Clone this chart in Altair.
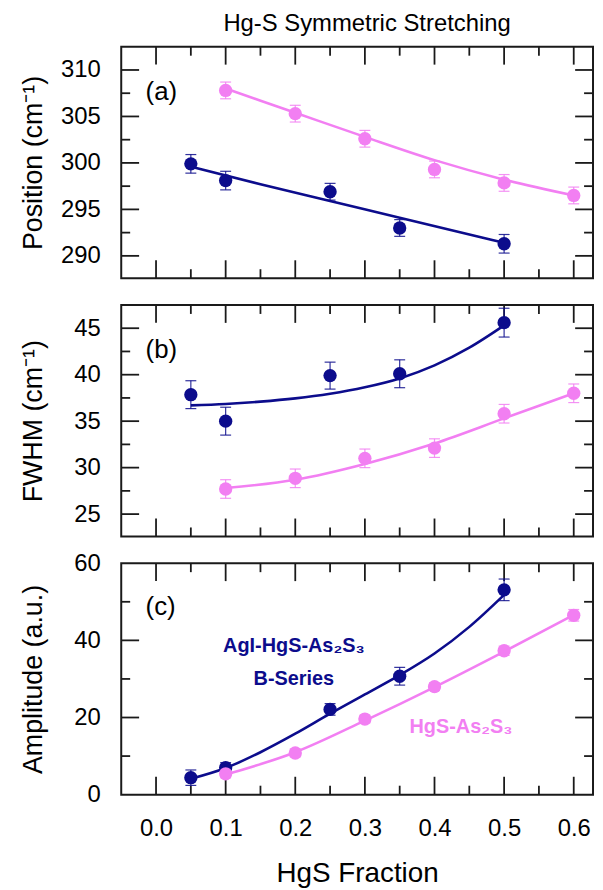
import altair as alt
import pandas as pd

NAVY = "#0c0c8c"
PINK = "#f27ff2"
FRAME = "#1a1a1a"
FONT = "Liberation Sans"

# ---------------- data ----------------
x_agi = [0.05, 0.10, 0.25, 0.35, 0.50]
x_hgs = [0.10, 0.20, 0.30, 0.40, 0.50, 0.60]

# (a) position
pos_agi = [299.9, 298.1, 296.9, 293.0, 291.3]
pos_agi_err = [1.0, 1.0, 0.9, 0.9, 1.0]
pos_hgs = [307.8, 305.3, 302.6, 299.3, 297.85, 296.5]
pos_hgs_err = [0.9, 0.9, 0.9, 0.9, 0.9, 0.9]
pos_agi_fit_x = [0.05, 0.15, 0.25, 0.35, 0.50]
pos_agi_fit = [299.6, 297.7, 295.9, 294.1, 291.4]
pos_hgs_fit_x = [0.10, 0.20, 0.30, 0.40, 0.50, 0.60]
pos_hgs_fit = [308.0, 305.4, 302.8, 300.3, 298.2, 296.5]

# (b) FWHM
fwhm_agi = [37.85, 35.0, 39.9, 40.1, 45.6]
fwhm_agi_err = [1.5, 1.5, 1.45, 1.5, 1.55]
fwhm_hgs = [27.7, 28.85, 31.0, 32.1, 35.8, 38.0]
fwhm_hgs_err = [1.0, 1.0, 1.0, 1.0, 1.0, 1.0]
fwhm_agi_fit_x = [0.05, 0.10, 0.15, 0.20, 0.25, 0.30, 0.35, 0.40, 0.45, 0.50]
fwhm_agi_fit = [36.7, 36.85, 37.1, 37.45, 37.95, 38.65, 39.6, 41.0, 42.9, 45.3]
fwhm_hgs_fit_x = [0.10, 0.20, 0.30, 0.40, 0.50, 0.60]
fwhm_hgs_fit = [27.8, 28.7, 30.4, 32.6, 35.3, 38.0]

# (c) amplitude
amp_agi = [4.4, 7.0, 22.1, 30.7, 53.1]
amp_agi_err = [2.0, 1.3, 1.5, 2.3, 2.8]
amp_hgs = [5.4, 10.8, 19.6, 28.0, 37.3, 46.5]
amp_hgs_err = [1.0, 1.0, 1.0, 1.0, 1.2, 1.5]
amp_agi_fit_x = [0.05, 0.10, 0.15, 0.20, 0.25, 0.30, 0.35, 0.40, 0.45, 0.50]
amp_agi_fit = [4.1, 6.9, 11.0, 15.8, 21.0, 26.0, 31.0, 36.6, 43.5, 51.8]
amp_hgs_fit_x = [0.10, 0.20, 0.30, 0.40, 0.50, 0.60]
amp_hgs_fit = [5.2, 11.0, 19.2, 27.9, 37.1, 46.6]

series = ["AgI-HgS-As2S3", "HgS-As2S3"]

# axes / ticks
x_major = [0.0, 0.1, 0.2, 0.3, 0.4, 0.5, 0.6]
x_minor = [0.05, 0.15, 0.25, 0.35, 0.45, 0.55]
x_domain = [-0.05, 0.6277]

ya_major = [290, 295, 300, 305, 310]
ya_minor = [292.5, 297.5, 302.5, 307.5]
ya_domain = [287.6, 312.5]
yb_major = [25, 30, 35, 40, 45]
yb_minor = [27.5, 32.5, 37.5, 42.5]
yb_domain = [22.6, 47.5]
yc_labels = [0, 20, 40, 60]
yc_major = [20, 40]
yc_minor = [10, 30, 50]
yc_domain = [0, 60]

titles = ["Position (cm\u207b\u00b9)", "FWHM (cm\u207b\u00b9)", "Amplitude (a.u.)"]
letters = ["(a)", "(b)", "(c)"]
letter_x = -0.015
letter_y = [307.6, 42.6, 48.6]

notes_text = ["AgI-HgS-As\u2082S\u2083", "B-Series", "HgS-As\u2082S\u2083"]
notes_x = [0.198, 0.198, 0.438]
notes_y = [38.4, 30.0, 17.6]
notes_series = ["AgI-HgS-As2S3", "AgI-HgS-As2S3", "HgS-As2S3"]

W, H = 475, 233
MAJ, MIN = 18, 9

color_scale = alt.Scale(domain=series, range=[NAVY, PINK])


def points_df(xa, ya, ea, xh, yh, eh):
    rows = []
    for x, y, e in zip(xa, ya, ea):
        rows.append({"x": x, "y": y, "lo": y - e, "hi": y + e, "s": series[0]})
    for x, y, e in zip(xh, yh, eh):
        rows.append({"x": x, "y": y, "lo": y - e, "hi": y + e, "s": series[1]})
    return pd.DataFrame(rows)


def fit_df(xa, ya, xh, yh):
    rows = [{"x": x, "y": y, "s": series[0]} for x, y in zip(xa, ya)]
    rows += [{"x": x, "y": y, "s": series[1]} for x, y in zip(xh, yh)]
    return pd.DataFrame(rows)


def panel(pts, fit, ydom, ylabels, ymaj, ymin, ytitle, letter, ly, bottom, notes=None):
    xscale = alt.Scale(domain=x_domain, nice=False, zero=False)
    yscale = alt.Scale(domain=ydom, nice=False, zero=False)
    if bottom:
        xaxis = alt.Axis(values=x_major, format=".1f", labelPadding=22, title="HgS Fraction",
                         titlePadding=19, titleFontSize=28, labelFlush=False)
    else:
        xaxis = None
    yaxis = alt.Axis(values=ylabels, format="d", labelPadding=21, title=ytitle,
                     titleX=-74, titleY=H / 2, titleAlign="center", titleAngle=-90,
                     titleBaseline="bottom")

    def X(f):
        return alt.X(f, type="quantitative", scale=xscale, axis=xaxis, title="HgS Fraction" if bottom else None)

    def Y(f):
        return alt.Y(f, type="quantitative", scale=yscale, axis=yaxis, title=ytitle)

    layers = []
    rule = dict(color=FRAME, strokeWidth=1.8)
    ymaj_df = pd.DataFrame({"v": ymaj})
    ymin_df = pd.DataFrame({"v": ymin})
    xmaj_df = pd.DataFrame({"v": x_major})
    xmin_df = pd.DataFrame({"v": x_minor})
    for df, L in ((ymaj_df, MAJ), (ymin_df, MIN)):
        layers.append(alt.Chart(df).mark_rule(**rule).encode(y=Y("v"), x=alt.value(0), x2=alt.value(L)))
        layers.append(alt.Chart(df).mark_rule(**rule).encode(y=Y("v"), x=alt.value(W), x2=alt.value(W - L)))
    for df, L in ((xmaj_df, MAJ), (xmin_df, MIN)):
        layers.append(alt.Chart(df).mark_rule(**rule).encode(x=X("v"), y=alt.value(0), y2=alt.value(L)))
        layers.append(alt.Chart(df).mark_rule(**rule).encode(x=X("v"), y=alt.value(H), y2=alt.value(H - L)))

    col = alt.Color("s:N", scale=color_scale, legend=None)
    layers.append(alt.Chart(fit).mark_line(strokeWidth=2.6, interpolate="monotone").encode(
        x=X("x"), y=Y("y"), color=col, detail="s:N"))
    layers.append(alt.Chart(pts).mark_rule(strokeWidth=1.2, opacity=0.85).encode(
        x=X("x"), y=Y("lo"), y2="hi:Q", color=col))
    layers.append(alt.Chart(pts).mark_tick(orient="horizontal", size=11, thickness=1.2, opacity=0.85).encode(
        x=X("x"), y=Y("lo"), color=col))
    layers.append(alt.Chart(pts).mark_tick(orient="horizontal", size=11, thickness=1.2, opacity=0.85).encode(
        x=X("x"), y=Y("hi"), color=col))
    layers.append(alt.Chart(pts).mark_circle(size=180, opacity=1).encode(
        x=X("x"), y=Y("y"), color=col))

    ldf = pd.DataFrame({"x": [letter_x], "y": [ly], "t": [letter]})
    layers.append(alt.Chart(ldf).mark_text(font=FONT, fontSize=26, align="left", baseline="middle",
                                           color="black").encode(x=X("x"), y=Y("y"), text="t:N"))
    if notes is not None:
        layers.append(alt.Chart(notes).mark_text(font=FONT, fontSize=20, fontWeight="bold",
                                                 align="center", baseline="middle").encode(
            x=X("x"), y=Y("y"), text="t:N", color=col))
    return alt.layer(*layers).properties(width=W, height=H)


pa = panel(points_df(x_agi, pos_agi, pos_agi_err, x_hgs, pos_hgs, pos_hgs_err),
           fit_df(pos_agi_fit_x, pos_agi_fit, pos_hgs_fit_x, pos_hgs_fit),
           ya_domain, ya_major, ya_major, ya_minor, titles[0], letters[0], letter_y[0], False)
pa = pa.properties(title=alt.TitleParams("Hg-S Symmetric Stretching", font=FONT, fontSize=24,
                                         fontWeight="normal", anchor="middle", frame="group",
                                         offset=10, dx=10, color="black"))
pb = panel(points_df(x_agi, fwhm_agi, fwhm_agi_err, x_hgs, fwhm_hgs, fwhm_hgs_err),
           fit_df(fwhm_agi_fit_x, fwhm_agi_fit, fwhm_hgs_fit_x, fwhm_hgs_fit),
           yb_domain, yb_major, yb_major, yb_minor, titles[1], letters[1], letter_y[1], False)
notes_df = pd.DataFrame({"x": notes_x, "y": notes_y, "t": notes_text, "s": notes_series})
pc = panel(points_df(x_agi, amp_agi, amp_agi_err, x_hgs, amp_hgs, amp_hgs_err),
           fit_df(amp_agi_fit_x, amp_agi_fit, amp_hgs_fit_x, amp_hgs_fit),
           yc_domain, yc_labels, yc_major, yc_minor, titles[2], letters[2], letter_y[2], True, notes_df)

chart = alt.vconcat(pa, pb, pc, spacing=27, bounds="flush").properties(
    padding={"left": 10, "top": 0, "right": 0, "bottom": 0}
).configure(font=FONT, background="white").configure_view(
    stroke=FRAME, strokeWidth=2
).configure_axis(
    labelFont=FONT, labelFontSize=24, labelColor="black", titleFont=FONT, titleFontSize=27,
    titleFontWeight="normal", titleColor="black", domain=False, ticks=False, grid=False
)

chart.save("out.html", embed_options={"renderer": "svg", "actions": False})
